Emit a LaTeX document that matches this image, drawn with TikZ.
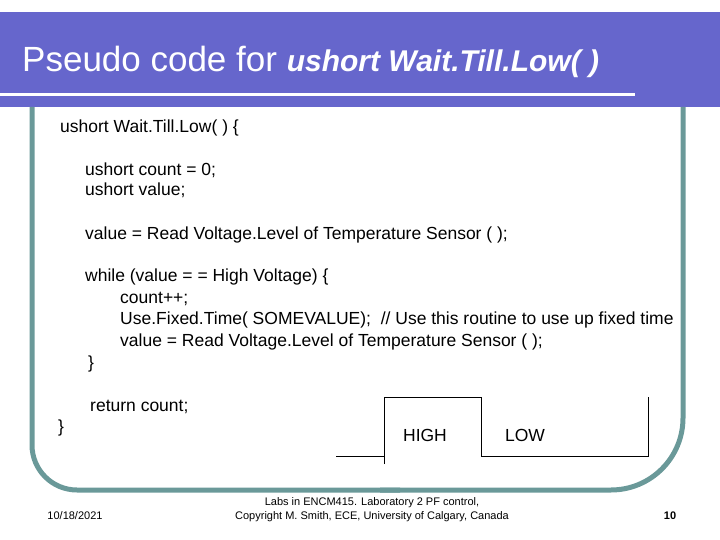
\documentclass[tikz,border=0pt]{standalone}
\usepackage{fontspec}
\setmainfont{Liberation Sans}
\begin{document}
\begin{tikzpicture}[x=1pt,y=-1pt,
  code/.style={anchor=west,inner sep=0pt,font=\fontsize{17.5}{19}\selectfont},
  foot/.style={inner sep=0pt,font=\fontsize{11}{14}\selectfont,align=center},
  wave/.style={line width=1pt}]
\useasboundingbox (0,0) rectangle (720,540);
\definecolor{band}{HTML}{6666CC}
\definecolor{frame}{HTML}{6A9999}
\fill[band] (0,12) rectangle (720,107);
\draw[white,line width=3pt] (0,95) -- (635,95);
\draw[frame,line width=5pt,rounded corners=45pt] (32,107) -- (32,490) -- (400,490);
\draw[frame,line width=5pt,rounded corners=72pt] (380,490) -- (683,490) -- (683,107);
\node[anchor=west,inner sep=0pt,text=white] (t) at (22,62) {\fontsize{35}{38}\selectfont Pseudo code for \fontsize{30}{32}\selectfont\bfseries\itshape ushort Wait.Till.Low( )};
\node[code] (c1) at (60,128) {ushort Wait.Till.Low( ) \{};
\node[code] (c2) at (85,170) {ushort count = 0;};
\node[code] (c3) at (85,190) {ushort value;};
\node[code] (c4) at (85,235) {value = Read Voltage.Level of Temperature Sensor ( );};
\node[code] (c5) at (85,277) {while (value = = High Voltage) \{};
\node[code] (c6) at (120,299) {count++;};
\node[code] (c7) at (120,320) {Use.Fixed.Time( SOMEVALUE); \ // Use this routine to use up fixed time};
\node[code] (c8) at (120,342) {value = Read Voltage.Level of Temperature Sensor ( );};
\node[code] (c9) at (88,364) {\}};
\node[code] (c10) at (90,407) {return count;};
\node[code] (c11) at (58,428) {\}};
\coordinate (w0) at (336,456);
\coordinate (w1) at (384,456);
\coordinate (w1b) at (384,464);
\coordinate (w2) at (384,397);
\coordinate (w3) at (481,397);
\coordinate (w4) at (481,456);
\coordinate (w5) at (648,456);
\coordinate (w6) at (648,397);
\draw[wave] (w0) -- (w1);
\draw[wave] (w1b) -- (w2) -- (w3) -- (w4) -- (w5) -- (w6);
\node[code,anchor=center] (hi) at (425,435) {HIGH};
\node[code,anchor=center] (lo) at (525,435) {LOW};
\node[foot] (d) at (75,516) {10/18/2021};
\node[foot] (f) at (372,510) {Labs in ENCM415. Laboratory 2 PF control,\\Copyright M. Smith, ECE, University of Calgary, Canada};
\node[foot,font=\fontsize{11}{14}\selectfont\bfseries] (n) at (670,516) {10};
\end{tikzpicture}
\end{document}
